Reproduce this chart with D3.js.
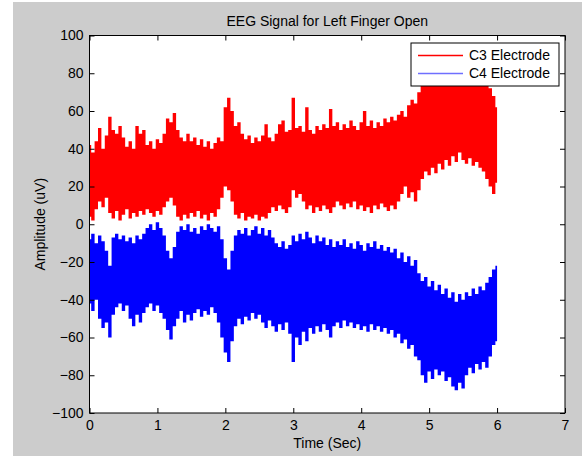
<!DOCTYPE html>
<html>
<head>
<meta charset="utf-8">
<script src="https://cdn.jsdelivr.net/npm/d3@7"></script>
<style>
  html, body { margin: 0; padding: 0; background: #fff; }
  svg { display: block; font-family: "Liberation Sans", Arial, sans-serif; }
</style>
</head>
<body>
<svg id="chart" width="582" height="456"></svg>
<script>
// envelope of each signal, sampled every 0.05 s from 0 to 6 s (values in uV)
const sampleStep = 0.05;

const c3Max = [
  42, 38, 44, 51, 40, 47, 57, 50, 48, 52, 46, 41, 44, 40, 52, 48, 50, 42, 44, 40,
  45, 43, 48, 56, 54, 59, 50, 46, 44, 48, 44, 46, 42, 45, 41, 44, 40, 43, 46, 44,
  62, 67, 60, 52, 54, 48, 45, 47, 43, 46, 44, 47, 53, 46, 44, 48, 53, 55, 49, 50,
  67, 51, 52, 49, 62, 50, 48, 52, 50, 53, 51, 61, 52, 54, 50, 53, 51, 55, 52, 50,
  54, 60, 52, 55, 51, 54, 52, 56, 54, 57, 55, 58, 60, 57, 63, 66, 64, 70, 74, 78,
  80, 76, 79, 82, 78, 80, 77, 81, 79, 83, 80, 78, 81, 77, 80, 76, 78, 74, 72, 68,
  62
];
const c3Min = [
  4, 2, 8, 12, 9, 14, 6, 3, 7, 2, 5, 8, 3, 6, 4, 7, 5, 8, 6, 4,
  7, 5, 9, 12, 14, 10, 4, 2, 5, 3, 6, 4, 7, 3, 5, 2, 6, 4, 8, 14,
  20, 18, 12, 5, 3, 6, 2, 4, 3, 5, 2, 4, 3, 6, 9, 7, 10, 8, 6, 9,
  18, 14, 16, 12, 8, 10, 6, 9, 7, 10, 8, 6, 9, 12, 10, 8, 11, 9, 12, 8,
  10, 7, 9, 6, 10, 8, 11, 9, 7, 10, 8, 12, 16, 20, 14, 17, 12, 18, 24, 28,
  26, 30, 27, 32, 29, 34, 31, 36, 33, 38, 34, 32, 35, 31, 33, 30, 28, 24, 20, 16,
  22
];
const c4Max = [
  -8, -5, -10, -6, -9, -14, -22, -7, -5, -8, -6, -9, -7, -10, -6, -8, -5, -2, 0, -3,
  1, -2, -6, -14, -18, -12, -4, -1, -3, 0, -4, -2, -5, -1, -3, 0, -2, -4, -1, -8,
  -18, -24, -14, -6, -3, -5, -2, -6, -3, -1, -5, -2, -6, -3, -7, -10, -12, -9, -13, -11,
  -6, -9, -5, -8, -4, -7, -10, -6, -9, -7, -11, -8, -12, -9, -11, -8, -12, -10, -13, -9,
  -11, -14, -10, -12, -9, -13, -11, -14, -12, -15, -13, -18, -15, -20, -17, -22, -19, -26, -30, -28,
  -33, -30, -35, -32, -37, -34, -39, -36, -41, -37, -40, -36, -38, -34, -37, -33, -35, -31, -28, -24,
  -22
];
const c4Min = [
  -42, -46, -40, -50, -55, -52, -60, -48, -44, -42, -46, -43, -50, -54, -48, -52, -47, -44, -42, -46,
  -43, -47, -50, -56, -61, -54, -50, -46, -52, -48, -51, -47, -45, -49, -46, -48, -44, -47, -52, -60,
  -68, -73, -62, -54, -50, -53, -49, -51, -47, -50, -48, -52, -55, -51, -54, -57, -53, -56, -52, -58,
  -73, -60, -64, -57, -62, -55, -58, -54, -57, -53, -56, -60, -54, -52, -55, -51, -54, -52, -55, -53,
  -56, -54, -57, -53, -56, -54, -57, -55, -58, -56, -60, -58, -63, -61, -66, -64, -70, -72, -80, -84,
  -78, -82, -77, -80, -78, -83, -81, -86, -88, -84, -87, -80, -76, -79, -74, -77, -73, -76, -70, -64,
  -62
];

const xTicks = [0, 1, 2, 3, 4, 5, 6, 7];
const yTicks = [-100, -80, -60, -40, -20, 0, 20, 40, 60, 80, 100];

const series = [
  { name: "C3 Electrode", max: c3Max, min: c3Min, color: "#ff0000", legendColor: "#ff0000", legendY: 12.5 },
  { name: "C4 Electrode", max: c4Max, min: c4Min, color: "#0000ff", legendColor: "#6f6fff", legendY: 30.5 }
];

const svg = d3.select("#chart");

// grey figure background
svg.append("rect")
  .attr("x", 13).attr("y", 2)
  .attr("width", 569).attr("height", 454)
  .attr("fill", "#cccccc");

const plotLeft = 89.5, plotRight = 565, plotTop = 35.5, plotBottom = 413;

const x = d3.scaleLinear().domain([0, 7]).range([plotLeft, plotRight]);
const y = d3.scaleLinear().domain([-100, 100]).range([plotBottom, plotTop]);

svg.append("rect")
  .attr("x", plotLeft).attr("y", plotTop)
  .attr("width", plotRight - plotLeft).attr("height", plotBottom - plotTop)
  .attr("fill", "#fff");

svg.append("clipPath").attr("id", "plot-clip")
  .append("rect")
  .attr("x", plotLeft).attr("y", plotTop)
  .attr("width", plotRight - plotLeft).attr("height", plotBottom - plotTop);

const plot = svg.append("g").attr("clip-path", "url(#plot-clip)");

// dense signal drawn as a stepped band between its min and max
series.forEach((s) => {
  const rows = s.max.map((v, i) => ({ t: i * sampleStep, hi: v, lo: s.min[i] }));
  const area = d3.area()
    .curve(d3.curveStep)
    .x((d) => x(d.t))
    .y0((d) => y(d.lo))
    .y1((d) => y(d.hi));
  plot.append("path")
    .datum(rows)
    .attr("d", area)
    .attr("fill", s.color);
});

// axes with inward ticks on all four sides
const styleAxis = (g) => {
  g.select(".domain").remove();
  g.selectAll(".tick line").attr("stroke", "#000");
  g.selectAll(".tick text")
    .attr("fill", "#000")
    .style("font-size", "14px")
    .style("font-family", "'Liberation Sans', Arial, sans-serif");
};

svg.append("g")
  .attr("transform", `translate(0,${plotBottom})`)
  .call(d3.axisBottom(x).tickValues(xTicks).tickSize(-5).tickPadding(7).tickFormat(d3.format("d")))
  .call(styleAxis);

svg.append("g")
  .attr("transform", `translate(0,${plotTop})`)
  .call(d3.axisTop(x).tickValues(xTicks).tickSize(-5).tickFormat(""))
  .call(styleAxis);

svg.append("g")
  .attr("transform", `translate(${plotLeft},0)`)
  .call(d3.axisLeft(y).tickValues(yTicks).tickSize(-5).tickPadding(6).tickFormat(d3.format("d")))
  .call(styleAxis);

svg.append("g")
  .attr("transform", `translate(${plotRight},0)`)
  .call(d3.axisRight(y).tickValues(yTicks).tickSize(-5).tickFormat(""))
  .call(styleAxis);

svg.append("rect")
  .attr("x", plotLeft).attr("y", plotTop)
  .attr("width", plotRight - plotLeft).attr("height", plotBottom - plotTop)
  .attr("fill", "none")
  .attr("stroke", "#000")
  .attr("stroke-width", 1);

// titles
svg.append("text")
  .attr("x", (plotLeft + plotRight) / 2).attr("y", 26)
  .attr("text-anchor", "middle")
  .style("font-size", "14px")
  .text("EEG Signal for Left Finger Open");

svg.append("text")
  .attr("x", (plotLeft + plotRight) / 2).attr("y", 448)
  .attr("text-anchor", "middle")
  .style("font-size", "14px")
  .text("Time (Sec)");

svg.append("text")
  .attr("transform", `translate(45,${(plotTop + plotBottom) / 2}) rotate(-90)`)
  .attr("text-anchor", "middle")
  .style("font-size", "14px")
  .text("Amplitude (uV)");

// legend
const legend = svg.append("g").attr("transform", "translate(411,43)");
legend.append("rect")
  .attr("width", 148).attr("height", 43)
  .attr("fill", "#fff")
  .attr("stroke", "#000")
  .attr("stroke-width", 1);

series.forEach((s) => {
  legend.append("line")
    .attr("x1", 7).attr("x2", 52)
    .attr("y1", s.legendY).attr("y2", s.legendY)
    .attr("stroke", s.legendColor)
    .attr("stroke-width", 1.6);
  legend.append("text")
    .attr("x", 58).attr("y", s.legendY)
    .attr("dy", "0.35em")
    .style("font-size", "14px")
    .text(s.name);
});
</script>
</body>
</html>
